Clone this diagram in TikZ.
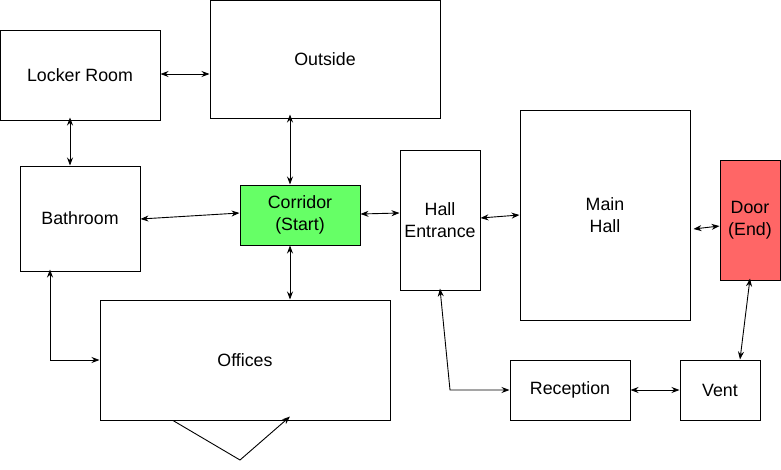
\documentclass[tikz,border=0pt]{standalone}
\usepackage{fontspec}
\setmainfont{Liberation Sans}
\usetikzlibrary{arrows.meta}
\definecolor{corgreen}{HTML}{66FF66}
\definecolor{doorred}{HTML}{FF6666}
\tikzset{
  room/.style={draw=black, line width=1pt, fill=white, inner sep=0pt, font=\fontsize{17.8}{22}\selectfont, align=center},
  link/.style={line width=0.9pt, {Stealth[length=8pt,width=6pt]}-{Stealth[length=8pt,width=6pt]}},
  onelink/.style={line width=0.9pt, -{Stealth[length=8pt,width=6pt]}}
}
\begin{document}
\begin{tikzpicture}[x=1pt,y=-1pt]
\useasboundingbox (0,0) rectangle (781,469);
% boxes
\node[room, minimum width=160, minimum height=90] (locker) at (80,75) {Locker Room};
\node[room, minimum width=230, minimum height=118] (outside) at (325,59) {Outside};
\node[room, minimum width=120, minimum height=105] (bath) at (80,218.5) {Bathroom};
\node[room, minimum width=120, minimum height=60, fill=corgreen] (corr) at (300,215) {Corridor\\(Start)};
\node[room, minimum width=80, minimum height=140] (hallent) at (440,220) {Hall\\Entrance};
\node[room, minimum width=170, minimum height=210] (main) at (605,215) {Main\\Hall};
\node[room, minimum width=60, minimum height=120, fill=doorred] (door) at (750,220) {Door\\(End)};
\node[room, minimum width=290, minimum height=120] (off) at (245,360) {Offices};
\node[room, minimum width=120, minimum height=60] (rec) at (570,390) {Reception};
\node[room, minimum width=80, minimum height=60] (vent) at (720,390) {Vent};
% connectors
\draw[link] (locker.east |- 0,74) -- (outside.west |- 0,74);
\draw[link] ([yshift=3]locker.south -| 70,0) -- (bath.north -| 70,0);
\draw[link] ([yshift=4]outside.south -| 290,0) -- (corr.north -| 290,0);
\draw[link] (bath.east |- 0,219) -- (corr.west |- 0,213);
\draw[link] (corr.east |- 0,214) -- (hallent.west |- 0,213);
\draw[link] (corr.south -| 290,0) -- (off.north -| 290,0);
\draw[link] (hallent.east |- 0,218) -- (main.west |- 0,215);
\draw[link] ([xshift=3]main.east |- 0,229) -- (door.west |- 0,226);
\draw[link] ([yshift=2]door.south -| 750,0) -- (vent.north -| 740,0);
\coordinate (hrc) at (450,390);
\draw[link] ([yshift=2]hallent.south -| 440,0) -- (hrc) -- (rec.west);
\coordinate (boc) at (50,360);
\draw[link] ([yshift=2]bath.south -| 50,0) -- (boc) -- (off.west);
\draw[link] (rec.east) -- (vent.west);
\coordinate (ob) at (240,460);
\draw[onelink] (off.south -| 173,0) -- (ob) -- ([yshift=4]off.south -| 290,0);
\end{tikzpicture}
\end{document}
